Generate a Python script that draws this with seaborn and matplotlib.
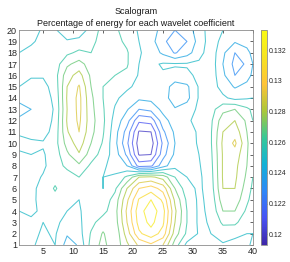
import numpy as np
import matplotlib
matplotlib.use("Agg")
import matplotlib.pyplot as plt
import seaborn as sns
from matplotlib.colors import LinearSegmentedColormap, Normalize
from matplotlib.cm import ScalarMappable

# grid positions (time index on x, scale on y)
x_pos = [1, 3, 5, 7, 9, 11, 13, 15, 17, 19, 21, 23, 25, 27, 29, 31, 33, 35, 37, 39, 40]
y_pos = list(range(1, 21))

# energy percentage x 1e4, one list per x column, values for y = 1 .. 20
col_x01 = [1252, 1252, 1252, 1250, 1248, 1247, 1246, 1246, 1249, 1252, 1249, 1242, 1236, 1243, 1250, 1252, 1252, 1250, 1248, 1246]
col_x03 = [1251, 1252, 1251, 1249, 1248, 1247, 1246, 1247, 1250, 1252, 1246, 1243, 1240, 1243, 1247, 1251, 1253, 1252, 1249, 1247]
col_x05 = [1248, 1249, 1250, 1251, 1253, 1254, 1251, 1248, 1249, 1251, 1246, 1245, 1245, 1246, 1247, 1251, 1251, 1250, 1252, 1251]
col_x07 = [1250, 1251, 1252, 1254, 1257, 1261, 1257, 1256, 1255, 1256, 1254, 1252, 1251, 1252, 1254, 1256, 1255, 1253, 1252, 1251]
col_x09 = [1236, 1241, 1247, 1250, 1252, 1254, 1256, 1262, 1268, 1274, 1279, 1281, 1280, 1281, 1280, 1276, 1268, 1258, 1251, 1244]
col_x11 = [1241, 1246, 1248, 1249, 1250, 1254, 1260, 1268, 1279, 1285, 1290, 1292, 1293, 1293, 1291, 1284, 1274, 1262, 1254, 1242]
col_x13 = [1264, 1261, 1257, 1255, 1253, 1252, 1254, 1258, 1265, 1270, 1273, 1274, 1273, 1272, 1270, 1268, 1265, 1260, 1258, 1255]
col_x15 = [1273, 1271, 1265, 1257, 1254, 1250, 1250, 1252, 1256, 1259, 1261, 1262, 1261, 1260, 1260, 1261, 1262, 1263, 1263, 1263]
col_x17 = [1263, 1262, 1265, 1266, 1264, 1258, 1252, 1245, 1245, 1243, 1244, 1246, 1249, 1252, 1255, 1260, 1263, 1264, 1263, 1262]
col_x19 = [1278, 1285, 1290, 1292, 1288, 1280, 1262, 1240, 1228, 1222, 1226, 1234, 1241, 1246, 1252, 1258, 1261, 1261, 1258, 1255]
col_x21 = [1292, 1308, 1314, 1316, 1311, 1300, 1280, 1216, 1199, 1195, 1199, 1212, 1230, 1242, 1247, 1249, 1250, 1251, 1250, 1249]
col_x23 = [1298, 1316, 1323, 1326, 1320, 1305, 1282, 1218, 1200, 1195, 1200, 1214, 1233, 1243, 1246, 1247, 1248, 1246, 1244, 1245]
col_x25 = [1290, 1306, 1312, 1314, 1308, 1296, 1276, 1236, 1226, 1222, 1228, 1236, 1243, 1245, 1246, 1249, 1251, 1238, 1232, 1236]
col_x27 = [1265, 1275, 1280, 1282, 1278, 1270, 1260, 1247, 1242, 1240, 1242, 1245, 1241, 1234, 1235, 1247, 1251, 1229, 1225, 1230]
col_x29 = [1247, 1258, 1260, 1260, 1258, 1254, 1250, 1248, 1247, 1246, 1247, 1249, 1245, 1237, 1238, 1248, 1251, 1236, 1230, 1234]
col_x31 = [1249, 1249, 1248, 1248, 1248, 1248, 1248, 1249, 1250, 1251, 1251, 1252, 1252, 1251, 1251, 1252, 1252, 1246, 1244, 1246]
col_x33 = [1250, 1250, 1251, 1252, 1253, 1255, 1256, 1257, 1258, 1259, 1259, 1258, 1256, 1255, 1255, 1256, 1256, 1256, 1255, 1254]
col_x35 = [1249, 1254, 1262, 1270, 1276, 1280, 1281, 1281, 1281, 1282, 1280, 1276, 1267, 1252, 1246, 1242, 1240, 1242, 1247, 1250]
col_x37 = [1246, 1253, 1262, 1270, 1276, 1280, 1282, 1283, 1286, 1292, 1286, 1280, 1270, 1247, 1239, 1230, 1227, 1230, 1241, 1246]
col_x39 = [1249, 1250, 1254, 1258, 1262, 1265, 1268, 1270, 1271, 1272, 1270, 1268, 1262, 1249, 1243, 1236, 1231, 1237, 1244, 1248]
col_x40 = [1251, 1250, 1252, 1254, 1256, 1258, 1260, 1261, 1262, 1262, 1262, 1260, 1258, 1250, 1246, 1242, 1240, 1243, 1247, 1250]

cbar_ticks = [0.120, 0.122, 0.124, 0.126, 0.128, 0.130, 0.132]

columns = [col_x01, col_x03, col_x05, col_x07, col_x09, col_x11, col_x13,
           col_x15, col_x17, col_x19, col_x21, col_x23, col_x25, col_x27,
           col_x29, col_x31, col_x33, col_x35, col_x37, col_x39, col_x40]
Z = np.array(columns, dtype=float).T / 1e4   # rows = y, cols = x
X, Y = np.meshgrid(x_pos, y_pos)

# parula-like colormap
parula = LinearSegmentedColormap.from_list("parula", [
    (0.2422, 0.1504, 0.6603), (0.2810, 0.3228, 0.9579), (0.1786, 0.5289, 0.9682),
    (0.0689, 0.6948, 0.8394), (0.2161, 0.7843, 0.5923), (0.6720, 0.7793, 0.2227),
    (0.9970, 0.7659, 0.2199), (0.9657, 0.8917, 0.1289), (0.9769, 0.9839, 0.0805)])

sns.set_theme(style="white")
plt.rcParams['font.family'] = ['Liberation Sans', 'DejaVu Sans']

fig = plt.figure(figsize=(2.9, 2.62), dpi=100)
ax = fig.add_axes([0.066, 0.065, 0.806, 0.82])
cax = fig.add_axes([0.900, 0.065, 0.020, 0.82])

norm = Normalize(vmin=0.1193, vmax=0.1333)
levels = np.arange(0.120, 0.1325, 0.001)
ax.contour(X, Y, Z, levels=levels, cmap=parula, norm=norm,
           linewidths=0.75, alpha=0.75)

ax.set_xlim(1, 40)
ax.set_ylim(1, 20)
ax.set_xticks([5, 10, 15, 20, 25, 30, 35, 40])
ax.set_yticks(y_pos)
ax.tick_params(direction='in', length=2, width=0.5, labelsize=6.5,
               colors='#262626', pad=1.5, top=True, right=True)
for sp in ax.spines.values():
    sp.set_color('#8c8c8c')
    sp.set_linewidth(0.6)
ax.set_title("Scalogram\nPercentage of energy for each wavelet coefficient",
             fontsize=6.5, color='#1a1a1a', pad=3, linespacing=1.4)

cb = fig.colorbar(ScalarMappable(norm=norm, cmap=parula), cax=cax)
cb.set_ticks(cbar_ticks)
cb.set_ticklabels(['%g' % t for t in cbar_ticks])
cb.ax.tick_params(direction='in', length=2, width=0.5, labelsize=5,
                  colors='#262626', pad=1.5)
cb.outline.set_edgecolor('#8c8c8c')
cb.outline.set_linewidth(0.6)

fig.savefig("out.png", dpi=100)
